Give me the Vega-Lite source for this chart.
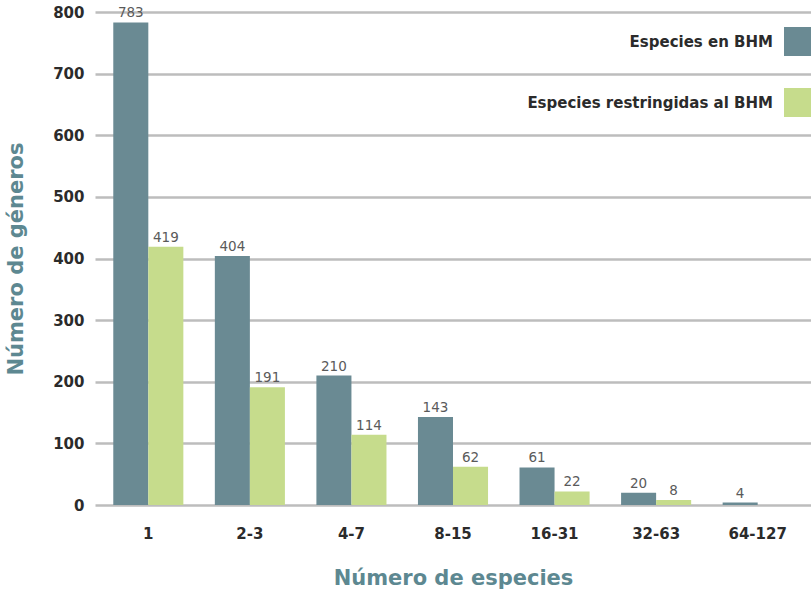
{
  "$schema": "https://vega.github.io/schema/vega-lite/v6.json",
  "width": 716,
  "height": 493,
  "autosize": "none",
  "padding": {"left": 95, "top": 12, "right": 0, "bottom": 86},
  "background": "white",
  "config": {
    "view": {"stroke": null},
    "font": "DejaVu Sans"
  },
  "data": {
    "values": [
      {"cat": "1", "serie": "Especies en BHM", "value": 783},
      {"cat": "1", "serie": "Especies restringidas al BHM", "value": 419},
      {"cat": "2-3", "serie": "Especies en BHM", "value": 404},
      {"cat": "2-3", "serie": "Especies restringidas al BHM", "value": 191},
      {"cat": "4-7", "serie": "Especies en BHM", "value": 210},
      {"cat": "4-7", "serie": "Especies restringidas al BHM", "value": 114},
      {"cat": "8-15", "serie": "Especies en BHM", "value": 143},
      {"cat": "8-15", "serie": "Especies restringidas al BHM", "value": 62},
      {"cat": "16-31", "serie": "Especies en BHM", "value": 61},
      {"cat": "16-31", "serie": "Especies restringidas al BHM", "value": 22},
      {"cat": "32-63", "serie": "Especies en BHM", "value": 20},
      {"cat": "32-63", "serie": "Especies restringidas al BHM", "value": 8},
      {"cat": "64-127", "serie": "Especies en BHM", "value": 4}
    ]
  },
  "encoding": {
    "x": {
      "field": "cat",
      "type": "nominal",
      "sort": ["1", "2-3", "4-7", "8-15", "16-31", "32-63", "64-127"],
      "scale": {"paddingInner": 0.31, "paddingOuter": 0.18},
      "axis": {
        "title": "Número de especies",
        "titleFont": "DejaVu Sans",
        "titleFontSize": 21,
        "titleFontWeight": "bold",
        "titleColor": "#5d8891",
        "titlePadding": 26,
        "labelAngle": 0,
        "labelFont": "DejaVu Sans",
        "labelFontSize": 15,
        "labelFontWeight": "bold",
        "labelColor": "#2b2b2b",
        "labelPadding": 21,
        "domain": false,
        "ticks": false,
        "grid": false
      }
    },
    "xOffset": {
      "field": "serie",
      "type": "nominal",
      "sort": ["Especies en BHM", "Especies restringidas al BHM"]
    },
    "y": {
      "field": "value",
      "type": "quantitative",
      "scale": {"domain": [0, 800], "nice": false},
      "axis": {
        "title": "Número de géneros",
        "titleFont": "DejaVu Sans",
        "titleFontSize": 21,
        "titleFontWeight": "bold",
        "titleColor": "#5d8891",
        "titlePadding": 26,
        "values": [0, 100, 200, 300, 400, 500, 600, 700, 800],
        "labelFont": "DejaVu Sans",
        "labelFontSize": 15,
        "labelFontWeight": "bold",
        "labelColor": "#2b2b2b",
        "labelPadding": 11,
        "domain": false,
        "ticks": false,
        "grid": true,
        "gridColor": "#bdbdbd",
        "gridWidth": 2.5
      }
    }
  },
  "layer": [
    {
      "mark": {"type": "bar"},
      "encoding": {
        "color": {
          "field": "serie",
          "type": "nominal",
          "sort": ["Especies en BHM", "Especies restringidas al BHM"],
          "scale": {"range": ["#6a8a93", "#c6dc8c"]},
          "legend": {
            "title": null,
            "orient": "none",
            "legendX": 689,
            "legendY": 15,
            "padding": 0,
            "symbolType": "square",
            "symbolSize": 841,
            "symbolStrokeWidth": 0,
            "symbolOpacity": 1,
            "rowPadding": 32,
            "labelAlign": "right",
            "labelOffset": -40,
            "labelFont": "DejaVu Sans",
            "labelFontSize": 15,
            "labelFontWeight": "bold",
            "labelColor": "#2b2b2b",
            "labelLimit": 400
          }
        }
      }
    },
    {
      "mark": {"type": "text", "baseline": "bottom", "dy": -2, "font": "DejaVu Sans", "fontSize": 13.5, "color": "#5a5a5a"},
      "encoding": {
        "text": {"field": "value", "type": "quantitative"}
      }
    }
  ]
}
